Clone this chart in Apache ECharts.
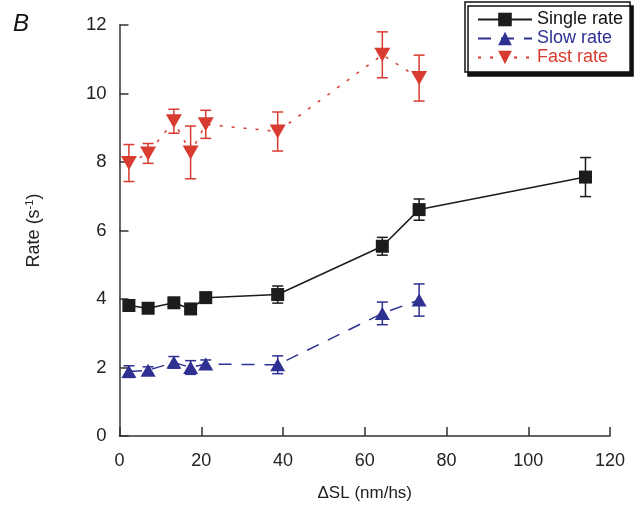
<!DOCTYPE html>
<html>
<head>
<meta charset="utf-8">
<script src="https://cdn.jsdelivr.net/npm/echarts@6/dist/echarts.min.js"></script>
<style>
html,body{margin:0;padding:0;background:#fff;}
#chart{width:644px;height:514px;}
</style>
</head>
<body>
<div id="chart"></div>
<script>
// ---- data ----
const xTicks = [0, 20, 40, 60, 80, 100, 120];
const yTicks = [0, 2, 4, 6, 8, 10, 12];

const singleX   = [2.3, 7.0, 13.3, 17.4, 21.1, 38.7, 64.3, 73.3, 114.0];
const singleY   = [3.81, 3.73, 3.89, 3.71, 4.04, 4.13, 5.54, 6.61, 7.56];
const singleErr = [0.10, 0.08, 0.10, 0.08, 0.10, 0.25, 0.26, 0.31, 0.57];

const slowX   = [2.3, 7.0, 13.3, 17.4, 21.1, 38.7, 64.3, 73.3];
const slowY   = [1.88, 1.92, 2.15, 2.00, 2.10, 2.08, 3.58, 3.97];
const slowErr = [0.17, 0.10, 0.17, 0.20, 0.12, 0.26, 0.33, 0.47];

const fastX   = [2.3, 7.0, 13.3, 17.4, 21.1, 38.7, 64.3, 73.3];
const fastY   = [7.97, 8.25, 9.19, 8.28, 9.10, 8.89, 11.13, 10.45];
const fastErr = [0.54, 0.29, 0.35, 0.77, 0.41, 0.57, 0.67, 0.67];

const seriesNames = ['Single rate', 'Slow rate', 'Fast rate'];
// ---- styles ----
const cBlack = '#1c1c1c', cBlue = '#2e3192', cRed = '#d83b2f';
const FONT = 'Liberation Sans, Arial, Helvetica, sans-serif';

function pts(xs, ys) { return xs.map((x, i) => [x, ys[i]]); }
function errs(xs, ys, es) { return xs.map((x, i) => [x, ys[i] - es[i], ys[i] + es[i]]); }

function errSeries(data, color) {
  return {
    type: 'custom',
    data: data,
    z: 1,
    silent: true,
    renderItem: function (params, api) {
      const x = api.value(0), lo = api.value(1), hi = api.value(2);
      const a = api.coord([x, hi]), b = api.coord([x, lo]);
      const w = 5.5;
      const st = { stroke: color, lineWidth: 1.5 };
      return {
        type: 'group',
        children: [
          { type: 'line', shape: { x1: a[0], y1: a[1], x2: b[0], y2: b[1] }, style: st },
          { type: 'line', shape: { x1: a[0] - w, y1: a[1], x2: a[0] + w, y2: a[1] }, style: st },
          { type: 'line', shape: { x1: b[0] - w, y1: b[1], x2: b[0] + w, y2: b[1] }, style: st }
        ]
      };
    }
  };
}

const chart = echarts.init(document.getElementById('chart'), null, { renderer: 'canvas' });
chart.setOption({
  animation: false,
  backgroundColor: '#fff',
  textStyle: { fontFamily: FONT },
  grid: { left: 119.5, right: 34, top: 25, bottom: 78, containLabel: false },
  graphic: [{
    type: 'text', left: 13, top: 12,
    style: { text: 'B', font: 'italic 24px ' + FONT, fill: '#111' }
  }],
  legend: {
    orient: 'vertical',
    left: 465, top: 2,
    padding: [8, 7, 5, 12],
    itemGap: 0,
    itemWidth: 54, itemHeight: 17,
    backgroundColor: '#fff',
    borderColor: '#111', borderWidth: 1.5, borderRadius: 0,
    shadowColor: '#111', shadowBlur: 0, shadowOffsetX: 3, shadowOffsetY: 4,
    data: [
      { name: seriesNames[0], textStyle: { color: '#111' } },
      { name: seriesNames[1], textStyle: { color: cBlue } },
      { name: seriesNames[2], textStyle: { color: cRed } }
    ],
    textStyle: { fontFamily: FONT, fontSize: 18, lineHeight: 19 }
  },
  xAxis: {
    type: 'value', min: 0, max: 120, interval: 20,
    name: 'ΔSL (nm/hs)', nameLocation: 'middle', nameGap: 49,
    nameTextStyle: { fontSize: 17, color: '#222', fontFamily: FONT },
    axisLine: { show: true, lineStyle: { color: '#333', width: 1.5 } },
    axisTick: { show: true, inside: true, length: 9, lineStyle: { color: '#333', width: 1.5 } },
    axisLabel: { fontSize: 18, color: '#222', margin: 16, fontFamily: FONT,
      formatter: function (v) { return xTicks.indexOf(v) >= 0 ? String(v) : ''; } },
    splitLine: { show: false }
  },
  yAxis: {
    type: 'value', min: 0, max: 12, interval: 2,
    name: 'Rate (s{sup|-1})', nameLocation: 'middle', nameGap: 76, nameRotate: 90,
    nameTextStyle: { fontSize: 18, color: '#222', fontFamily: FONT,
      rich: { sup: { fontSize: 11, verticalAlign: 'top', padding: [0, 0, 8, 0], color: '#222' } } },
    axisLine: { show: true, lineStyle: { color: '#333', width: 1.5 } },
    axisTick: { show: true, inside: true, length: 9, lineStyle: { color: '#333', width: 1.5 } },
    axisLabel: { fontSize: 18.5, color: '#222', margin: 13, fontFamily: FONT,
      formatter: function (v) { return yTicks.indexOf(v) >= 0 ? String(v) : ''; } },
    splitLine: { show: false }
  },
  series: [
    errSeries(errs(singleX, singleY, singleErr), cBlack),
    errSeries(errs(slowX, slowY, slowErr), cBlue),
    errSeries(errs(fastX, fastY, fastErr), cRed),
    {
      name: seriesNames[0], type: 'line', z: 3,
      data: pts(singleX, singleY),
      symbol: 'rect', symbolSize: 13,
      itemStyle: { color: cBlack },
      lineStyle: { color: cBlack, width: 1.5, type: 'solid' }
    },
    {
      name: seriesNames[1], type: 'line', z: 3,
      data: pts(slowX, slowY),
      symbol: 'triangle', symbolSize: [15, 13],
      itemStyle: { color: cBlue },
      lineStyle: { color: cBlue, width: 1.5, type: [13, 10] }
    },
    {
      name: seriesNames[2], type: 'line', z: 3,
      data: pts(fastX, fastY),
      symbol: 'path://M0,0 L10,0 L5,9 Z', symbolSize: [16, 14],
      itemStyle: { color: cRed },
      lineStyle: { color: cRed, width: 1.5, type: [3, 9] }
    }
  ]
});
</script>
</body>
</html>
